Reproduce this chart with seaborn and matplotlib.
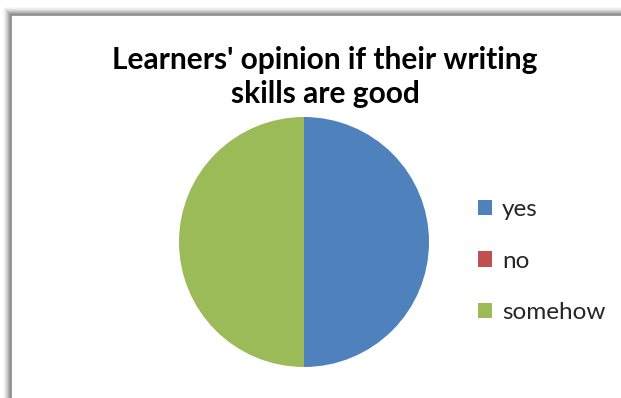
import matplotlib
matplotlib.use("Agg")
import matplotlib.pyplot as plt
import seaborn as sns
from matplotlib.patches import Rectangle, Patch

categories = ["yes", "no", "somehow"]
values = [50, 0, 50]
colors = ["#4F81BD", "#C0504D", "#9BBB59"]
title = "Learners' opinion if their writing\nskills are good"

sns.set_theme(style="white")
plt.rcParams['font.family'] = ['Lato', 'DejaVu Sans']

W, H = 621, 398
fig = plt.figure(figsize=(W / 100, H / 100), dpi=100)
fig.patch.set_facecolor("white")

# shadow + frame (Excel-like chart area)
fl, ft = 11 / W, 1 - 15 / H
alphas = [0.04, 0.06, 0.09, 0.12, 0.16, 0.21, 0.27, 0.34]
n = len(alphas)
for i, a in enumerate(alphas):
    off = (n - i)
    fig.patches.append(Rectangle((fl - off / W, -0.1), 1.2, ft + off / H + 0.1,
                                 transform=fig.transFigure, facecolor="#707070",
                                 alpha=a, edgecolor="none", zorder=-3))
fig.patches.append(Rectangle((fl, -0.1), 1.2, ft + 0.1, transform=fig.transFigure,
                             facecolor="white", edgecolor="#8c8c8c", linewidth=1.2, zorder=-2))

cx, cy, r = 304, 242, 125
ax = fig.add_axes([(cx - r) / W, (H - cy - r) / H, 2 * r / W, 2 * r / H])
ax.set_zorder(2)
ax.patch.set_alpha(0)
ax.pie(values, colors=colors, startangle=90, counterclock=False, radius=1,
       wedgeprops=dict(linewidth=0))
ax.set_xlim(-1, 1)
ax.set_ylim(-1, 1)
ax.set_aspect("equal")
ax.axis("off")

fig.text(325 / W, 1 - 77 / H, title, ha="center", va="center", fontsize=21.5,
         fontweight="bold", color="black", linespacing=1.25, zorder=3)

handles = [Patch(facecolor=c, edgecolor="none") for c in colors]
leg = fig.legend(handles, categories, loc="center left",
                 bbox_to_anchor=(468 / W, 1 - 261 / H), frameon=False,
                 fontsize=17.5, handlelength=0.6, handleheight=0.6, handletextpad=0.4,
                 labelspacing=1.25, borderaxespad=0)
leg.set_zorder(3)

fig.savefig("out.png", dpi=100)
